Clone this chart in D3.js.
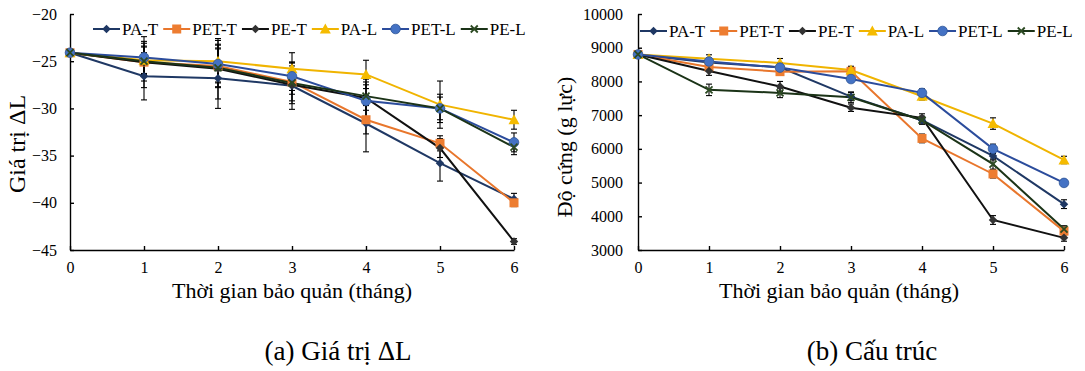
<!DOCTYPE html>
<html>
<head>
<meta charset="utf-8">
<script src="https://cdn.jsdelivr.net/npm/d3@7"></script>
<style>
  body { margin: 0; background: #fff; }
  text { font-family: "Liberation Serif", "Times New Roman", serif; fill: #000; }
</style>
</head>
<body>
<div id="fig"></div>
<script>
// months of storage (x axis)
const months = [0, 1, 2, 3, 4, 5, 6];
const seriesNames = ["PA-T", "PET-T", "PE-T", "PA-L", "PET-L", "PE-L"];

// (a) delta L
const dL_PA_T  = [-24.1, -26.6, -26.8, -27.6, -31.6, -35.8, -39.6];
const dL_PET_T = [-24.1, -25.1, -25.5, -27.2, -31.2, -33.7, -40.0];
const dL_PE_T  = [-24.1, -25.1, -25.8, -27.5, -28.9, -34.2, -44.1];
const dL_PA_L  = [-24.1, -24.9, -25.0, -25.8, -26.4, -29.6, -31.2];
const dL_PET_L = [-24.1, -24.6, -25.3, -26.6, -29.2, -30.0, -33.6];
const dL_PE_L  = [-24.1, -25.0, -25.7, -27.3, -28.7, -30.0, -34.1];

const dLErr_PA_T  = [0.1, 2.5, 3.2, 2.5, 3.0, 1.9, 0.6];
const dLErr_PET_T = [0.1, 2.0, 2.3, 2.0, 1.5, 0.8, 0.4];
const dLErr_PE_T  = [0.1, 2.7, 3.2, 2.0, 2.0, 1.0, 0.3];
const dLErr_PA_L  = [0.1, 1.5, 2.2, 1.7, 1.5, 2.5, 1.0];
const dLErr_PET_L = [0.1, 1.7, 2.0, 1.5, 1.7, 1.5, 1.0];
const dLErr_PE_L  = [0.1, 1.5, 2.0, 1.2, 1.5, 1.2, 0.8];

// (b) hardness
const hd_PA_T  = [8800, 8560, 8420, 7550, 6850, 5790, 4360];
const hd_PET_T = [8800, 8430, 8290, 8300, 6310, 5255, 3560];
const hd_PE_T  = [8800, 8310, 7850, 7220, 6920, 3890, 3360];
const hd_PA_L  = [8800, 8670, 8550, 8340, 7560, 6750, 5670];
const hd_PET_L = [8800, 8590, 8410, 8070, 7660, 6000, 4990];
const hd_PE_L  = [8800, 7750, 7660, 7530, 6850, 5550, 3620];

const hdErr_PA_T  = [60, 110, 120, 120, 110, 120, 130];
const hdErr_PET_T = [60, 100, 110, 120, 130, 120, 110];
const hdErr_PE_T  = [60, 130, 150, 110, 120, 130, 100];
const hdErr_PA_L  = [60, 120, 130, 110, 110, 170, 110];
const hdErr_PET_L = [60, 110, 140, 100, 120, 140, 100];
const hdErr_PE_L  = [60, 170, 140, 160, 120, 150, 100];

const ticksL = [-20, -25, -30, -35, -40, -45];
const ticksH = [3000, 4000, 5000, 6000, 7000, 8000, 9000, 10000];

const styles = [
  {line: "#1f3864", fill: "#1f3864", shape: "diamond"},
  {line: "#e8762c", fill: "#ed7d31", shape: "square"},
  {line: "#111111", fill: "#333333", shape: "diamond"},
  {line: "#f0b400", fill: "#f5bb00", shape: "triangle"},
  {line: "#2b4c9c", fill: "#4472c4", shape: "circle"},
  {line: "#1b3317", fill: "#2c4a22", shape: "cross"}
];

const svg = d3.select("#fig").append("svg")
  .attr("width", 1085).attr("height", 371);

let drawMarker = (g, shape, fill, cx, cy) => {
  if (shape === "circle") {
    g.append("circle").attr("cx", cx).attr("cy", cy).attr("r", 4.8)
      .attr("fill", fill).attr("stroke", "#2f5597").attr("stroke-width", 0.8);
  } else if (shape === "square") {
    g.append("rect").attr("x", cx - 4.5).attr("y", cy - 4.5).attr("width", 9).attr("height", 9)
      .attr("fill", fill);
  } else if (shape === "diamond") {
    g.append("path").attr("transform", `translate(${cx},${cy}) rotate(45)`)
      .attr("d", "M-3,-3h6v6h-6z").attr("fill", fill);
  } else if (shape === "triangle") {
    g.append("path").attr("transform", `translate(${cx},${cy})`)
      .attr("d", "M0,-5.5L5.5,4.5L-5.5,4.5Z").attr("fill", fill);
  } else {
    g.append("path").attr("transform", `translate(${cx},${cy})`)
      .attr("d", "M-3.5,-3.5L3.5,3.5M3.5,-3.5L-3.5,3.5")
      .attr("stroke", fill).attr("stroke-width", 1.8).attr("fill", "none");
  }
};

let styleAxis = (a) => {
  a.attr("font-family", "Liberation Serif").attr("font-size", 16);
  a.selectAll("text").attr("fill", "#000").style("font-family", "'Liberation Serif', serif");
  a.selectAll("line,path").attr("stroke", "#000").attr("stroke-width", 1.4);
};

let drawChart = (opt) => {
  const x = d3.scaleLinear().domain([0, 6]).range([opt.left, opt.right]);
  const y = d3.scaleLinear().domain(opt.yDomain).range([250, 14]);
  const g = svg.append("g");

  // axes
  g.append("g").attr("transform", `translate(${opt.left},0)`)
    .call(d3.axisLeft(y).tickValues(opt.yTicks).tickFormat(d3.format("d"))
      .tickSizeInner(-4).tickSizeOuter(0).tickPadding(opt.yPad))
    .call(styleAxis);
  g.append("g").attr("transform", `translate(0,250)`)
    .call(d3.axisBottom(x).tickValues(months).tickFormat(d3.format("d"))
      .tickSizeInner(-4).tickSizeOuter(0).tickPadding(12))
    .call(styleAxis);

  // lines
  const line = d3.line().x((d, i) => x(months[i])).y(d => y(d));
  opt.values.forEach((vals, s) => {
    g.append("path").datum(vals).attr("d", line)
      .attr("fill", "none").attr("stroke", styles[s].line).attr("stroke-width", 2);
  });
  // error bars
  opt.values.forEach((vals, s) => {
    vals.forEach((v, i) => {
      const e = opt.errors[s][i];
      const cx = x(months[i]);
      const eb = g.append("g").attr("stroke", "#000").attr("stroke-width", 1.1);
      eb.append("line").attr("x1", cx).attr("x2", cx).attr("y1", y(v - e)).attr("y2", y(v + e));
      eb.append("line").attr("x1", cx - 3).attr("x2", cx + 3).attr("y1", y(v - e)).attr("y2", y(v - e));
      eb.append("line").attr("x1", cx - 3).attr("x2", cx + 3).attr("y1", y(v + e)).attr("y2", y(v + e));
    });
  });
  // markers
  opt.values.forEach((vals, s) => {
    vals.forEach((v, i) => drawMarker(g, styles[s].shape, styles[s].fill, x(months[i]), y(v)));
  });

  // legend
  let lx = opt.legendX;
  seriesNames.forEach((name, s) => {
    g.append("line").attr("x1", lx).attr("x2", lx + 27).attr("y1", opt.legendY).attr("y2", opt.legendY)
      .attr("stroke", styles[s].line).attr("stroke-width", 2);
    drawMarker(g, styles[s].shape, styles[s].fill, lx + 13.5, opt.legendY);
    const t = g.append("text").attr("x", lx + 29).attr("y", opt.legendY + 6)
      .style("font-size", "17px").text(name);
    lx += 29 + t.node().getComputedTextLength() + 5;
  });

  // titles
  g.append("text").attr("x", opt.xTitleX).attr("y", 298).attr("text-anchor", "middle")
    .style("font-size", "22px").text("Thời gian bảo quản (tháng)");
  g.append("text").attr("transform", `translate(${opt.yTitleX},${opt.yTitleY}) rotate(-90)`)
    .attr("text-anchor", "middle").style("font-size", opt.yTitleSize).text(opt.yTitle);
  g.append("text").attr("x", opt.captionX).attr("y", 360).attr("text-anchor", "middle")
    .style("font-size", "27px").text(opt.caption);
};

drawChart({
  left: 70, right: 514, yDomain: [-45, -20], yTicks: ticksL, yPad: 13,
  values: [dL_PA_T, dL_PET_T, dL_PE_T, dL_PA_L, dL_PET_L, dL_PE_L],
  errors: [dLErr_PA_T, dLErr_PET_T, dLErr_PE_T, dLErr_PA_L, dLErr_PET_L, dLErr_PE_L],
  legendX: 93, legendY: 29,
  xTitleX: 292, yTitleX: 25, yTitleY: 144, yTitleSize: "24px", yTitle: "Giá trị ΔL",
  captionX: 338, caption: "(a) Giá trị ΔL"
});

drawChart({
  left: 638, right: 1064, yDomain: [3000, 10000], yTicks: ticksH, yPad: 15,
  values: [hd_PA_T, hd_PET_T, hd_PE_T, hd_PA_L, hd_PET_L, hd_PE_L],
  errors: [hdErr_PA_T, hdErr_PET_T, hdErr_PE_T, hdErr_PA_L, hdErr_PET_L, hdErr_PE_L],
  legendX: 640, legendY: 31,
  xTitleX: 839, yTitleX: 572, yTitleY: 147, yTitleSize: "22px", yTitle: "Độ cứng (g lực)",
  captionX: 872, caption: "(b) Cấu trúc"
});
</script>
</body>
</html>
